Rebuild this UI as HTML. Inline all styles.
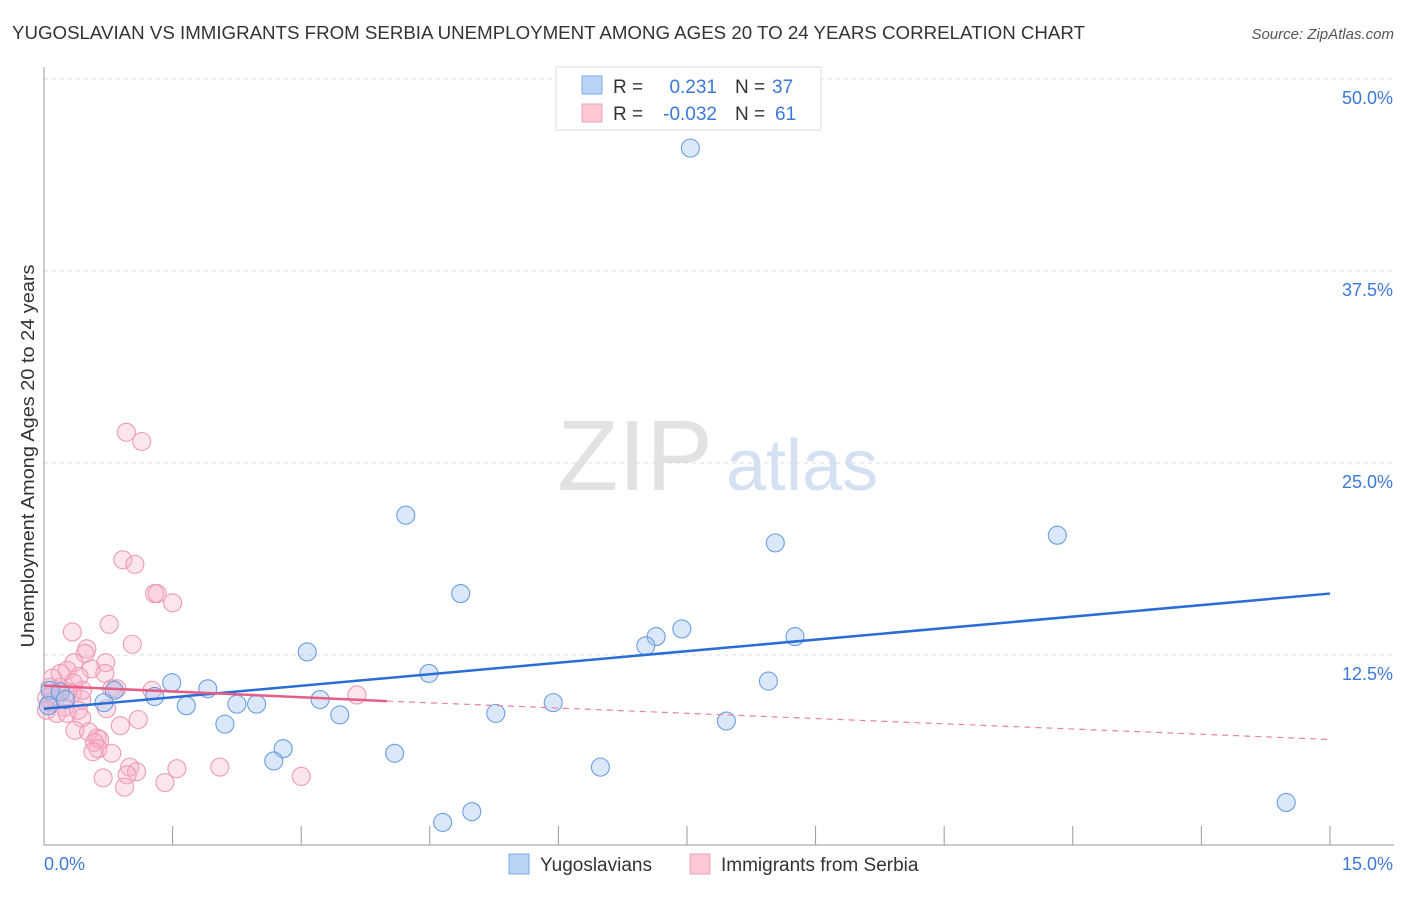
<!DOCTYPE html>
<html><head><meta charset="utf-8"><style>
body{margin:0;background:#fff;font-family:"Liberation Sans",sans-serif;}
svg text{font-family:"Liberation Sans",sans-serif;}
</style></head><body>
<svg id="chart" width="1406" height="892" xmlns="http://www.w3.org/2000/svg">
<text x="12" y="39" font-size="18.5" fill="#333" textLength="1073" lengthAdjust="spacingAndGlyphs">YUGOSLAVIAN VS IMMIGRANTS FROM SERBIA UNEMPLOYMENT AMONG AGES 20 TO 24 YEARS CORRELATION CHART</text>
<text x="1394" y="39" font-size="15" fill="#555" text-anchor="end" font-style="italic">Source: ZipAtlas.com</text>
<text transform="translate(34,456) rotate(-90)" font-size="18.5" fill="#333" text-anchor="middle" textLength="383" lengthAdjust="spacingAndGlyphs">Unemployment Among Ages 20 to 24 years</text>
<g>
<text x="635" y="490" font-size="100" fill="#e2e2e2" text-anchor="middle" font-family="Liberation Serif,serif">ZIP</text>
<text x="802" y="490" font-size="72" fill="#d3e1f3" text-anchor="middle">atlas</text>
</g>
<g id="grid"></g><g id="axes"></g><g id="pts"></g><g id="lines"></g>
<g>
<rect x="556" y="67" width="265" height="63" fill="#fff" stroke="#ddd"/>
<rect x="582" y="76" width="20" height="18" fill="#b8d3f5" stroke="#7aa7e6"/>
<rect x="582" y="104" width="20" height="18" fill="#fcc8d6" stroke="#f0a0b8"/>
<text x="613" y="93" font-size="19" fill="#333">R =</text><text x="717" y="93" font-size="19" fill="#3b78d8" text-anchor="end">0.231</text>
<text x="735" y="93" font-size="19" fill="#333">N =</text><text x="772" y="93" font-size="19" fill="#3b78d8">37</text>
<text x="613" y="120" font-size="19" fill="#333">R =</text><text x="717" y="120" font-size="19" fill="#3b78d8" text-anchor="end">-0.032</text>
<text x="735" y="120" font-size="19" fill="#333">N =</text><text x="775" y="120" font-size="19" fill="#3b78d8">61</text>
</g>
<g>
<rect x="509" y="854" width="20" height="20" fill="#b8d3f5" stroke="#7aa7e6"/>
<text x="540" y="871" font-size="19" fill="#333">Yugoslavians</text>
<rect x="690" y="854" width="20" height="20" fill="#fcc8d6" stroke="#f0a0b8"/>
<text x="721" y="871" font-size="19" fill="#333">Immigrants from Serbia</text>
</g>
</svg>
<script>
const blueX=[7.54,4.22,11.82,8.53,4.86,7.44,7.14,7.02,8.76,3.07,4.49,8.45,1.49,1.91,0.82,1.29,3.22,2.25,2.48,1.66,5.94,3.45,5.27,7.96,2.11,2.79,2.68,4.09,6.49,4.99,4.65,14.49,0.07,0.19,0.05,0.25,0.70];
const blueY=[45.5,21.6,20.3,19.8,16.5,14.2,13.7,13.1,13.7,12.7,11.3,10.8,10.7,10.3,10.2,9.8,9.6,9.3,9.3,9.2,9.4,8.6,8.7,8.2,8.0,6.4,5.6,6.1,5.2,2.3,1.6,2.9,10.2,10.1,9.2,9.6,9.4];
const pinkX=[0.96,1.14,0.92,1.06,1.29,1.32,1.50,0.76,0.33,1.03,0.50,0.48,0.72,0.35,0.27,0.55,0.71,0.41,0.34,0.10,0.07,0.19,0.28,0.79,0.85,1.26,3.65,0.13,0.03,0.24,0.44,0.73,0.15,0.27,0.44,1.10,0.89,0.36,0.52,0.62,0.65,0.59,0.63,0.79,0.57,1.00,1.08,1.55,2.05,0.97,0.69,1.41,3.00,0.94,0.07,0.10,0.03,0.33,0.45,0.19,0.40];
const pinkY=[27.0,26.4,18.7,18.4,16.5,16.5,15.9,14.5,14.0,13.2,12.9,12.6,12.0,12.0,11.5,11.6,11.3,11.1,10.7,11.0,10.4,10.4,10.1,10.3,10.3,10.2,9.9,9.6,9.7,9.1,9.6,9.0,8.7,8.7,8.4,8.3,7.9,7.6,7.5,7.1,7.0,6.8,6.4,6.1,6.2,5.2,4.9,5.1,5.2,4.7,4.5,4.2,4.6,3.9,9.4,10.0,8.9,10.0,10.2,11.3,8.9];
const yTicks=[12.5,25,37.5,50];
const yTickLabels=["12.5%","25.0%","37.5%","50.0%"];
const xTicks=[0,1.5,3,4.5,6,7.5,9,10.5,12,13.5,15];
const blueTrend=[0,9.0,15,16.5];
const pinkTrend=[0,10.5,4,9.5,15,7.0];
const NS="http://www.w3.org/2000/svg";
const sx=v=>44+v*85.73, sy=v=>847-v*15.36;
function mk(tag,attrs,parent){const e=document.createElementNS(NS,tag);for(const k in attrs)e.setAttribute(k,attrs[k]);document.getElementById(parent).appendChild(e);return e;}
yTicks.forEach((t,i)=>{
 const g=mk('line',{x1:44,x2:1394,y1:sy(t),y2:sy(t),stroke:'#ddd','stroke-dasharray':'4,4'},'grid');
 
 
 const l=mk('text',{x:1393,y:sy(t)+25,'font-size':18,fill:'#3b78d8','text-anchor':'end'},'axes');
 l.textContent=yTickLabels[i];
 
 
});
const ya=mk('line',{x1:44,x2:44,y1:67,y2:845,stroke:'#999'},'axes');


const xa=mk('line',{x1:44,x2:1394,y1:845,y2:845,stroke:'#999'},'axes');


xTicks.forEach(t=>{
 const k=mk('line',{x1:sx(t),x2:sx(t),y1:826,y2:845,stroke:'#999'},'axes');
 
 
});
const x0=mk('text',{x:44,y:870,'font-size':18,fill:'#3b78d8'},'axes');x0.textContent='0.0%';


const x1=mk('text',{x:1393,y:870,'font-size':18,fill:'#3b78d8','text-anchor':'end'},'axes');x1.textContent='15.0%';


pinkX.forEach((v,i)=>{
 const c=mk('circle',{cx:sx(v),cy:sy(pinkY[i]),r:9,fill:'rgba(248,175,198,0.32)',stroke:'#ee9ab4','stroke-width':1.1},'pts');
 
 
});
blueX.forEach((v,i)=>{
 const c=mk('circle',{cx:sx(v),cy:sy(blueY[i]),r:9,fill:'rgba(165,198,240,0.4)',stroke:'#6a9ee2','stroke-width':1.1},'pts');
 
 
});
const bl=mk('line',{x1:sx(blueTrend[0]),y1:sy(blueTrend[1]),x2:sx(blueTrend[2]),y2:sy(blueTrend[3]),stroke:'#2a6dd6','stroke-width':2.5},'lines');


const pl=mk('line',{x1:sx(pinkTrend[0]),y1:sy(pinkTrend[1]),x2:sx(pinkTrend[2]),y2:sy(pinkTrend[3]),stroke:'#e45e86','stroke-width':2.5},'lines');


const pd=mk('line',{x1:sx(pinkTrend[2]),y1:sy(pinkTrend[3]),x2:sx(pinkTrend[4]),y2:sy(pinkTrend[5]),stroke:'#e8849f','stroke-width':1.2,'stroke-dasharray':'6,5'},'lines');


</script>
</body></html>
